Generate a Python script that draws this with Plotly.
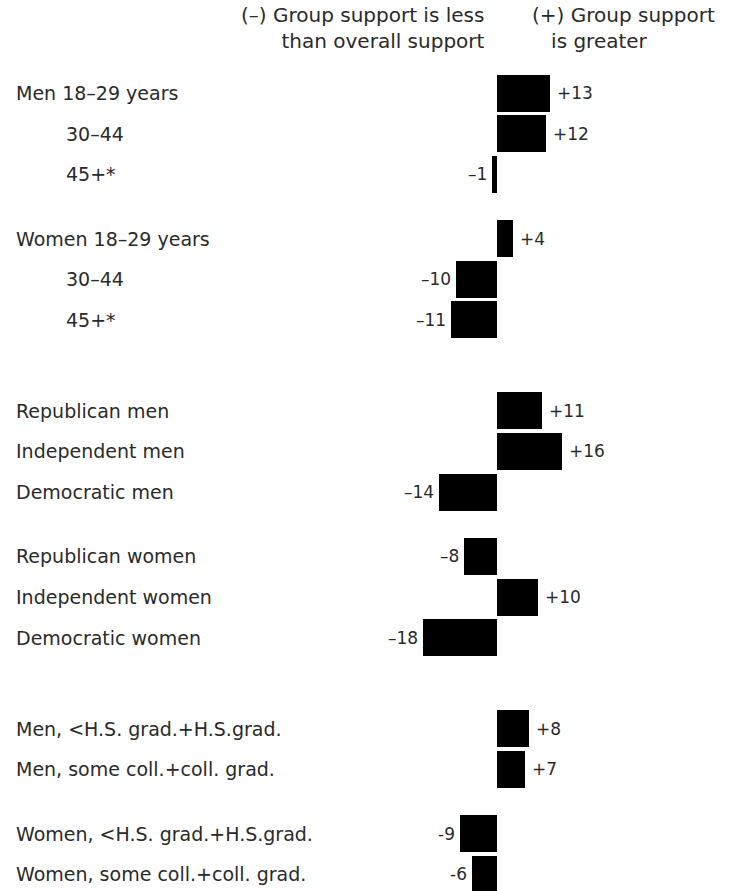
import plotly.graph_objects as go

# ---- data ----
age_labels = ["Men 18–29 years", "30–44", "45+*", "Women 18–29 years", "30–44", "45+*"]
age_values = [13, 12, -1, 4, -10, -11]
age_subgroups = [3, 3]

party_labels = ["Republican men", "Independent men", "Democratic men",
                "Republican women", "Independent women", "Democratic women"]
party_values = [11, 16, -14, -8, 10, -18]
party_subgroups = [3, 3]

edu_labels = ["Men, <H.S. grad.+H.S.grad.", "Men, some coll.+coll. grad.",
              "Women, <H.S. grad.+H.S.grad.", "Women, some coll.+coll. grad."]
edu_values = [8, 7, -9, -6]
edu_subgroups = [2, 2]

header_left = ["(–) Group support is less", "than overall support"]
header_right = ["(+) Group support", "is greater"]

# ---- layout constants ----
W, H = 733, 891
ZERO_PX = 496.5
PX_PER_UNIT = 4.1
Y0, PITCH, SUBGAP, GROUPGAP = 93, 40.6, 64.4, 91.0
BAR_H = 37
FONT = "DejaVu Sans, Verdana, sans-serif"
FONT_WEIGHT = 400
TEXT_COLOR = "#2a2a2a"
LABEL_SIZE = 19
VALUE_SIZE = 17
HEADER_SIZE = 20

groups = [
    (age_labels, age_values, age_subgroups, "–"),
    (party_labels, party_values, party_subgroups, "–"),
    (edu_labels, edu_values, edu_subgroups, "-"),
]

labels, values, ypos, texts, indents = [], [], [], [], []
prev = None
for gi, (labs, vals, subs, minus) in enumerate(groups):
    k = 0
    for si, n in enumerate(subs):
        for ri in range(n):
            if prev is None:
                pos = Y0
            elif ri > 0:
                pos = prev + PITCH
            elif si > 0:
                pos = prev + SUBGAP
            else:
                pos = prev + GROUPGAP
            prev = pos
            lab, v = labs[k], vals[k]
            k += 1
            labels.append(lab)
            values.append(v)
            ypos.append(pos)
            texts.append(f"+{v}" if v > 0 else f"{minus}{abs(v)}")
            indents.append(gi == 0 and ri > 0)

fig = go.Figure()
fig.add_trace(go.Bar(
    x=values, y=ypos, orientation="h", width=BAR_H,
    marker=dict(color="#000000", line=dict(width=0)),
    hoverinfo="skip", showlegend=False,
))

def tfont(size):
    return dict(family=FONT, size=size, color=TEXT_COLOR, weight=FONT_WEIGHT)

annotations = []
for lab, v, y, t, ind in zip(labels, values, ypos, texts, indents):
    annotations.append(dict(
        x=(64 if ind else 14) / W, xref="paper", y=y, yref="y",
        text=lab, showarrow=False, xanchor="left", yanchor="middle",
        font=tfont(LABEL_SIZE),
    ))
    annotations.append(dict(
        x=v, xref="x", y=y, yref="y", text=t, showarrow=False,
        xanchor="left" if v > 0 else "right", yanchor="middle",
        xshift=5 if v > 0 else -3,
        font=tfont(VALUE_SIZE),
    ))

annotations.append(dict(
    x=487 / W, xref="paper", y=28, yref="y",
    text="<br>".join(header_left), align="right",
    showarrow=False, xanchor="right", yanchor="middle",
    font=tfont(HEADER_SIZE),
))
annotations.append(dict(
    x=530 / W, xref="paper", y=28, yref="y",
    text=header_right[0] + "<br>" + "&nbsp;" * 3 + header_right[1], align="left",
    showarrow=False, xanchor="left", yanchor="middle",
    font=tfont(HEADER_SIZE),
))

fig.update_layout(
    width=W, height=H,
    margin=dict(l=0, r=0, t=0, b=0),
    paper_bgcolor="white", plot_bgcolor="white",
    xaxis=dict(range=[-ZERO_PX / PX_PER_UNIT, (W - ZERO_PX) / PX_PER_UNIT],
               visible=False, fixedrange=True),
    yaxis=dict(range=[H, 0], visible=False, fixedrange=True),
    annotations=annotations,
    bargap=0,
)

fig.write_html("out.html", config={"displayModeBar": False},
               post_script="document.body.style.margin='0';document.body.style.overflow='hidden';")
